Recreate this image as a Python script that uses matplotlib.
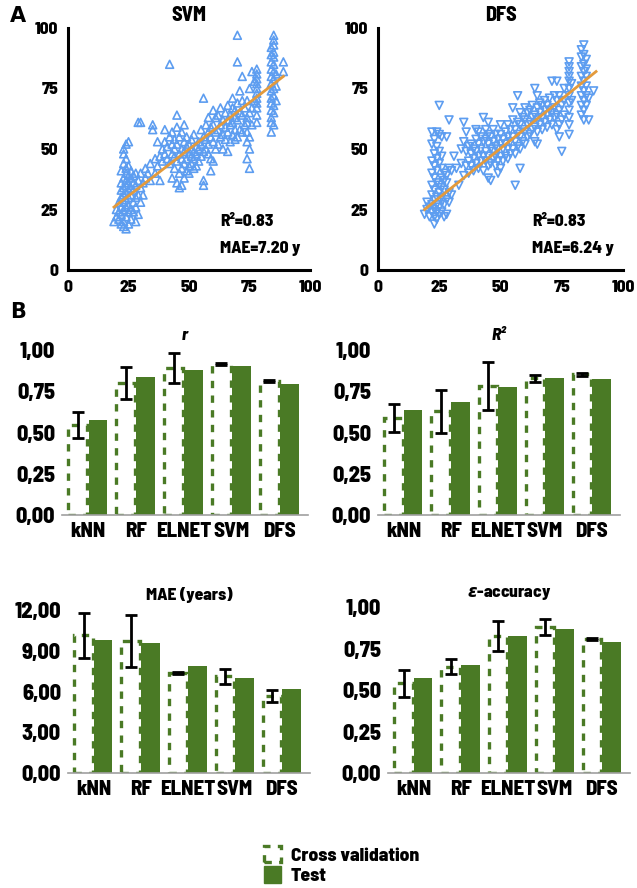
import matplotlib
matplotlib.use("Agg")
import matplotlib.pyplot as plt
from matplotlib.patches import Patch
from matplotlib import font_manager

# ---------------- data ----------------
svm_true = [19,20,20,21,21,21,22,22,22,22,22,22,22,23,23,23,23,23,23,23,23,23,23,
            24,24,24,24,24,24,24,24,24,24,24,25,25,25,25,25,25,25,25,25,26,26,26,26,26,26,
            27,27,27,27,27,28,28,28,28,28,29,29,29,29,30,30,30,30,
            31,31,32,32,33,34,34,35,35,36,36,37,37,38,38,39,39,40,40,40,41,41,42,42,42,
            43,43,43,43,44,44,44,44,45,45,45,45,45,
            46,46,46,46,47,47,47,47,47,48,48,48,48,48,49,49,49,49,50,50,50,50,51,51,51,51,
            52,52,52,52,53,53,53,54,54,54,55,55,55,56,56,56,56,56,57,57,57,58,58,58,58,
            59,59,59,59,60,60,60,60,61,61,61,62,62,62,63,63,63,64,64,64,65,65,65,
            66,66,66,66,67,67,67,68,68,68,68,69,69,69,69,70,70,70,70,70,71,71,71,
            72,72,72,72,73,73,74,74,74,74,74,74,75,75,75,75,75,76,76,76,
            78,78,78,78,78,78,78,78,78,78,78,77,77,
            84,84,84,84,84,84,84,84,84,84,84,84,84,85,85,85,85,85,85,85,85,85,85,85,85,85,
            86,86,86,89,89]
svm_pred = [20,22,25,21,24,28,19,23,26,30,33,36,41,18,20,25,28,31,34,38,44,48,50,
            17,22,26,29,32,35,37,40,42,46,52,19,24,27,30,33,36,39,43,53,21,25,31,34,38,41,
            24,28,33,36,39,20,26,30,35,40,23,31,37,61,28,34,40,61,
            36,31,38,42,40,37,44,58,60,40,46,43,53,37,47,45,50,48,53,58,46,51,44,55,85,
            38,48,52,57,42,47,50,54,36,45,52,59,64,
            34,40,48,55,35,42,46,50,57,38,44,49,53,60,41,46,51,55,40,43,48,52,44,47,50,54,
            42,46,49,56,43,48,51,45,50,53,47,52,58,35,37,49,55,71,50,54,60,48,52,57,63,
            41,46,55,59,45,53,60,66,50,57,63,52,58,64,55,60,67,50,56,62,54,59,65,
            49,57,62,68,53,60,64,56,61,67,71,54,58,63,66,55,62,69,86,97,58,65,74,
            57,64,70,80,60,67,46,53,57,61,63,70,42,50,55,65,75,60,67,82,
            61,64,67,69,71,73,75,77,79,81,83,70,78,
            57,61,63,66,69,71,74,77,80,83,86,89,92,95,97,60,65,68,72,75,79,82,85,88,90,93,
            70,76,81,82,86]

dfs_true = [19,20,20,21,21,22,22,22,22,22,22,22,22,23,23,23,23,23,23,23,23,23,
            24,24,24,24,24,24,24,24,24,25,25,25,25,25,25,25,25,26,26,26,26,26,26,26,26,
            27,27,27,27,27,28,28,28,28,28,29,29,29,29,30,30,31,32,33,34,34,35,35,35,
            36,36,36,37,37,37,38,38,38,39,39,39,40,40,40,40,41,41,41,41,42,42,42,
            43,43,43,43,44,44,44,44,45,45,45,45,45,45,46,46,46,46,47,47,47,47,
            48,48,48,48,49,49,49,49,50,50,50,50,50,51,51,51,52,52,52,53,53,53,53,
            54,54,54,55,55,55,55,56,56,56,56,57,57,57,57,58,58,58,58,58,59,59,59,
            60,60,60,60,61,61,61,62,62,62,63,63,63,64,64,64,64,65,65,65,65,65,
            66,66,66,67,67,67,68,68,68,69,69,69,70,70,70,71,71,71,72,72,72,
            73,73,73,73,74,74,74,74,75,75,75,76,76,76,
            78,78,78,78,78,78,78,78,78,78,78,78,79,79,
            83,83,83,83,83,83,83,83,84,84,84,84,84,84,84,84,84,85,85,85,85,85,85,86,86,88]
dfs_pred = [23,25,28,22,26,24,27,31,35,40,45,52,57,19,22,25,29,33,38,43,48,54,
            21,24,27,30,36,41,46,51,57,23,26,32,35,44,49,56,68,24,28,30,34,38,42,47,55,
            22,27,33,37,40,23,29,36,39,55,28,32,42,62,31,41,47,42,35,44,50,39,53,61,
            43,49,57,40,45,51,43,48,52,41,46,50,44,49,54,58,42,47,52,57,45,50,55,
            41,47,53,63,45,49,54,58,38,43,47,52,56,61,37,44,50,55,46,49,53,58,
            43,47,51,56,40,45,50,54,42,47,52,56,60,45,50,54,47,52,57,46,50,55,60,
            48,53,58,50,55,62,67,35,48,53,58,51,56,61,72,42,50,55,60,65,53,58,63,
            52,57,62,67,55,60,65,56,61,66,58,63,68,53,59,64,75,52,57,62,67,72,
            60,65,69,58,63,68,61,66,70,59,64,68,62,66,71,60,65,78,63,67,72,
            58,64,70,78,55,60,66,72,49,62,68,64,70,75,
            56,60,63,66,69,72,75,78,80,82,84,86,70,77,
            64,68,72,76,80,84,88,91,62,66,70,74,78,82,85,89,93,68,72,76,80,83,87,62,71,74]

svm_fit_x = [19, 89]
svm_fit_y = [26, 80]
dfs_fit_x = [19, 89]
dfs_fit_y = [25, 82]

models = ["kNN", "RF", "ELNET", "SVM", "DFS"]

r_cv = [0.545, 0.80, 0.893, 0.915, 0.812]
r_cv_err = [0.08, 0.095, 0.09, 0.008, 0.008]
r_test = [0.576, 0.834, 0.879, 0.905, 0.794]

r2_cv = [0.586, 0.63, 0.78, 0.828, 0.853]
r2_cv_err = [0.085, 0.13, 0.145, 0.02, 0.01]
r2_test = [0.636, 0.687, 0.778, 0.828, 0.824]

mae_cv = [10.15, 9.74, 7.38, 7.13, 5.66]
mae_cv_err = [1.66, 1.9, 0.06, 0.56, 0.46]
mae_test = [9.79, 9.59, 7.89, 6.96, 6.22]

eps_cv = [0.54, 0.64, 0.824, 0.88, 0.808]
eps_cv_err = [0.083, 0.046, 0.09, 0.047, 0.008]
eps_test = [0.57, 0.65, 0.824, 0.868, 0.788]

# ---------------- style ----------------
names = {f.name for f in font_manager.fontManager.ttflist}
cond = "DejaVu Sans"
for cand in ["Barlow Semi Condensed", "Roboto Condensed", "Asap Condensed",
             "Archivo Narrow", "Liberation Sans Narrow"]:
    if cand in names:
        cond = cand
        break
FAM = [cond, "DejaVu Sans"]
WT = 800
plt.rcParams["font.family"] = FAM
plt.rcParams["font.weight"] = WT
plt.rcParams["mathtext.fontset"] = "dejavusans"

GREEN = "#4a7a25"
BLUE = "#5d9df0"
ORANGE = "#e39a3c"

W, H = 637, 888
fig = plt.figure(figsize=(W / 100, H / 100), dpi=100)


def ax_px(x0, y0, x1, y1):
    return fig.add_axes([x0 / W, 1 - y1 / H, (x1 - x0) / W, (y1 - y0) / H])


def scatter_panel(ax, xs, ys, fx, fy, marker, title, r2, mae):
    ax.scatter(xs, ys, marker=marker, s=32, facecolors="none", edgecolors=BLUE,
               linewidths=1.2, zorder=2)
    ax.plot(fx, fy, color=ORANGE, lw=2, zorder=3)
    ax.set_xlim(0, 100)
    ax.set_ylim(0, 100)
    ax.set_xticks([0, 25, 50, 75, 100])
    ax.set_yticks([0, 25, 50, 75, 100])
    ax.tick_params(length=0, labelsize=12.5, pad=7)
    for lab in ax.get_xticklabels() + ax.get_yticklabels():
        lab.set_fontweight(WT)
    for s in ["top", "right"]:
        ax.spines[s].set_visible(False)
    for s in ["left", "bottom"]:
        ax.spines[s].set_linewidth(2.2)
        ax.spines[s].set_color("black")
    ax.set_title(title, fontsize=14.5, fontweight=WT, pad=5)
    ax.text(63, 20, r2, fontsize=12.5, fontweight=WT, va="center")
    ax.text(63, 9, mae, fontsize=12.5, fontweight=WT, va="center")


ax1 = ax_px(68, 28, 310, 270)
scatter_panel(ax1, svm_true, svm_pred, svm_fit_x, svm_fit_y, "^", "SVM",
              "R²=0.83", "MAE=7.20 y")
ax2 = ax_px(378, 28, 623, 270)
scatter_panel(ax2, dfs_true, dfs_pred, dfs_fit_x, dfs_fit_y, "v", "DFS",
              "R²=0.83", "MAE=6.24 y")


def bar_panel(ax, cv, err, test, ymax, yticks, fmt, title, title_style="normal"):
    x = list(range(len(models)))
    bw = 0.39
    xc = [i - 0.21 for i in x]
    xt = [i + 0.21 for i in x]
    ax.bar(xc, cv, width=bw, facecolor="white", edgecolor=GREEN,
           linewidth=2.4, linestyle=(0, (2.2, 2.2)), zorder=2)
    ax.bar(xt, test, width=bw, color=GREEN, zorder=2)
    ax.errorbar(xc, cv, yerr=err, fmt="none", ecolor="black", elinewidth=2,
                capsize=4.5, capthick=2, zorder=4, clip_on=False)
    ax.set_xlim(-0.54, 4.6)
    ax.set_ylim(0, ymax)
    ax.set_yticks(yticks)
    ax.set_yticklabels([fmt(v) for v in yticks], fontsize=16, fontweight=WT)
    ax.set_xticks(x)
    ax.set_xticklabels(models, fontsize=15, fontweight=WT)
    ax.tick_params(length=0, pad=5)
    for s in ["top", "right", "left"]:
        ax.spines[s].set_visible(False)
    ax.spines["bottom"].set_color("#a0a0a0")
    ax.spines["bottom"].set_linewidth(1.2)
    ax.set_title(title, fontsize=12.5, fontweight=WT, style=title_style, pad=7)


def comma2(v):
    return f"{v:.2f}".replace(".", ",")


ax3 = ax_px(62, 350, 308, 515)
bar_panel(ax3, r_cv, r_cv_err, r_test, 1.0, [0, 0.25, 0.5, 0.75, 1.0], comma2,
          "r", "italic")
ax4 = ax_px(378, 350, 620, 515)
bar_panel(ax4, r2_cv, r2_cv_err, r2_test, 1.0, [0, 0.25, 0.5, 0.75, 1.0], comma2,
          "R²", "italic")
ax5 = ax_px(68, 610, 310, 773)
bar_panel(ax5, mae_cv, mae_cv_err, mae_test, 12.0, [0, 3, 6, 9, 12], comma2,
          "MAE (years)")
ax6 = ax_px(388, 607, 630, 773)
bar_panel(ax6, eps_cv, eps_cv_err, eps_test, 1.0, [0, 0.25, 0.5, 0.75, 1.0], comma2,
          r"$\varepsilon$-accuracy")

fig.text(10 / W, 1 - 16 / H, "A", fontsize=15, fontweight="bold",
         family="DejaVu Sans", va="center")
fig.text(10 / W, 1 - 312 / H, "B", fontsize=15, fontweight="bold",
         family="DejaVu Sans", va="center")

handles = [Patch(facecolor="white", edgecolor=GREEN, linewidth=2.4,
                 linestyle=(0, (2.2, 2.2)), label="Cross validation"),
           Patch(facecolor=GREEN, edgecolor=GREEN, label="Test")]
fig.legend(handles=handles, loc="center left",
           bbox_to_anchor=(246 / W, 1 - 865 / H), frameon=False,
           prop={"weight": WT, "size": 14, "family": FAM},
           handlelength=0.9, handleheight=0.9, handletextpad=0.5, labelspacing=0.15)

fig.savefig("out.png", dpi=100)
